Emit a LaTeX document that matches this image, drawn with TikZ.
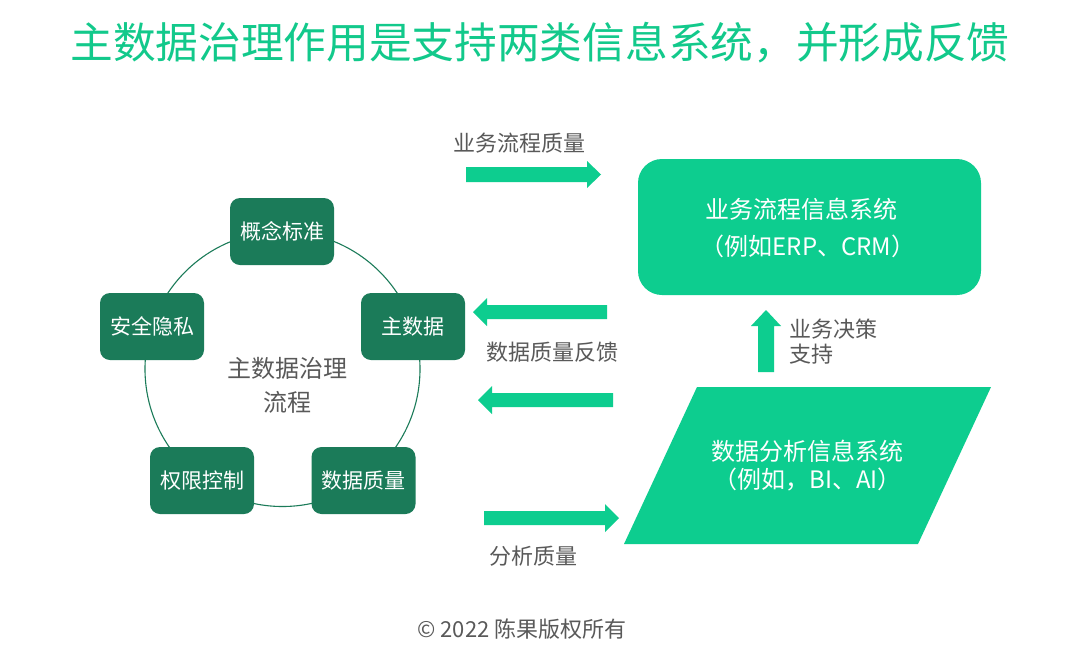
\documentclass[tikz,border=0pt]{standalone}
\usepackage{fontspec}
\setmainfont{Noto Sans CJK SC}
\definecolor{titlegreen}{HTML}{12C98B}
\definecolor{lightg}{HTML}{0DCD8F}
\definecolor{darkg}{HTML}{1B7B59}
\definecolor{txtgray}{HTML}{595959}
\begin{document}
\begin{tikzpicture}[x=1pt,y=-1pt,
  procbox/.style={fill=darkg, draw=none, rounded corners=10pt, minimum width=104pt, minimum height=67pt, text=white, font=\fontsize{21}{25}\selectfont, inner sep=0pt},
  graylabel/.style={text=txtgray, font=\fontsize{22}{27}\selectfont, inner sep=0pt},
  sysbox/.style={text=white, align=center, inner sep=0pt},
  barrow/.style={fill=lightg}]
\useasboundingbox (0,0) rectangle (1080,654);
\fill[white] (0,0) rectangle (1080,654);

% title
\node[text=titlegreen, font=\fontsize{42.7}{50}\selectfont, inner sep=0pt] (title) at (540,43) {主数据治理作用是支持两类信息系统，并形成反馈};

% cycle
\coordinate (cc) at (282.5,369);
\draw[darkg, line width=1.1pt] (cc) circle[radius=137.5pt];
\node[procbox] (concept) at (282,231.5) {概念标准};
\node[procbox] (master) at (413,326.5) {主数据};
\node[procbox] (quality) at (363.5,480.5) {数据质量};
\node[procbox] (access) at (202,480.5) {权限控制};
\node[procbox] (privacy) at (152,326.5) {安全隐私};
\node[graylabel, font=\fontsize{24}{34}\selectfont, align=center] (center) at (287,385) {主数据治理\\流程};

% business process system
\node[fill=lightg, rounded corners=24pt, minimum width=343pt, minimum height=136pt, inner sep=0pt] (bps) at (809.5,227) {};
\node[sysbox, font=\fontsize{24}{38}\selectfont] (bpstext1) at (801,209) {业务流程信息系统};
\node[sysbox, font=\fontsize{24}{38}\selectfont] (bpstext2) at (808,246) {（例如ERP、CRM）};

% data analysis system (parallelogram)
\fill[lightg] (697,387) coordinate (das1) -- (991,387) coordinate (das2) -- (918,544) coordinate (das3) -- (624,544) coordinate (das4) -- cycle;
\node[sysbox, font=\fontsize{24}{28}\selectfont] (dastext) at (807.5,466) {数据分析信息系统\\（例如，BI、AI）};

% block arrows
\fill[barrow] (466,167) -- (587,167) -- (587,161) -- (601,174.5) -- (587,188) -- (587,182) -- (466,182) -- cycle;
\fill[barrow] (607,305) -- (487,305) -- (487,298) -- (473,312) -- (487,326) -- (487,319) -- (607,319) -- cycle;
\fill[barrow] (613,393) -- (492,393) -- (492,386) -- (478,400) -- (492,414) -- (492,407) -- (613,407) -- cycle;
\fill[barrow] (484,511) -- (605,511) -- (605,504) -- (619,518) -- (605,532) -- (605,525) -- (484,525) -- cycle;
\fill[barrow] (758,372) -- (758,326) -- (751,326) -- (766,310) -- (781,326) -- (774,326) -- (774,372) -- cycle;

% labels
\node[graylabel] (lbl1) at (519,143) {业务流程质量};
\node[graylabel] (lbl2) at (552,352) {数据质量反馈};
\node[graylabel] (lbl3) at (533,556) {分析质量};
\node[graylabel, font=\fontsize{22}{25}\selectfont, align=left, anchor=west] (lbl4) at (789,342) {业务决策\\支持};

% copyright
\node[graylabel, font=\fontsize{22}{26}\selectfont] (copy) at (522,629) {© 2022 陈果版权所有};
\end{tikzpicture}
\end{document}
